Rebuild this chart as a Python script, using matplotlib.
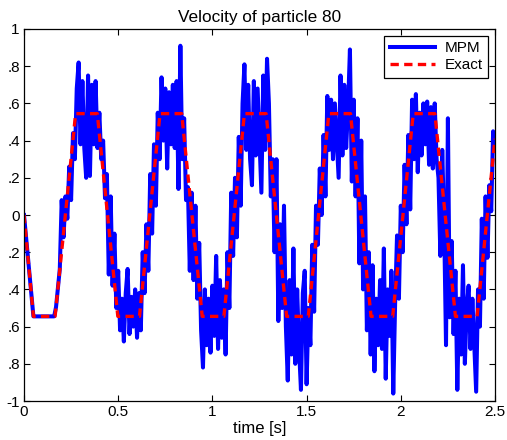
import numpy as np
import matplotlib
matplotlib.use("Agg")
import matplotlib.pyplot as plt

plt.rcParams['font.family'] = ['Liberation Sans', 'DejaVu Sans']

# exact solution: breakpoints of the piecewise linear velocity
exact_t = [0.0, 0.05, 0.165, 0.274, 0.389, 0.498, 0.613, 0.722, 0.837, 0.946,
           1.061, 1.170, 1.285, 1.394, 1.509, 1.618, 1.733, 1.842, 1.957,
           2.066, 2.181, 2.290, 2.405, 2.5]
exact_v = [0.0, -0.545, -0.545, 0.545, 0.545, -0.545, -0.545, 0.545, 0.545, -0.545,
           -0.545, 0.545, 0.545, -0.545, -0.545, 0.545, 0.545, -0.545, -0.545,
           0.545, 0.545, -0.545, -0.545, 0.41]

dt = 0.01
mpm_v = [
    0.0, -0.11, -0.22, -0.33, -0.44, -0.545, -0.545, -0.545, -0.545, -0.545,
    -0.545, -0.545, -0.545, -0.545, -0.545, -0.545, -0.545, -0.495, -0.395, -0.29,
    0.08, -0.12, 0.10, -0.02, 0.26, 0.08, 0.44, 0.30, 0.68, 0.82,
    0.38, 0.72, 0.36, 0.20, 0.75, 0.21, 0.70, 0.38, 0.72, 0.36,
    0.55, 0.30, 0.40, 0.09, 0.22, -0.32, 0.10, -0.38, -0.10, -0.50,
    -0.30, -0.62, -0.45, -0.68, -0.42, -0.29, -0.64, -0.44, -0.60, -0.40,
    -0.66, -0.42, -0.62, -0.20, -0.42, -0.05, -0.30, 0.22, -0.10, 0.38,
    0.05, 0.55, 0.30, 0.74, 0.40, 0.68, 0.25, 0.66, 0.38, 0.70,
    0.36, 0.72, 0.14, 0.91, 0.30, 0.52, 0.08, 0.15, -0.30, 0.12,
    -0.35, 0.05, -0.45, -0.15, -0.62, -0.82, -0.40, -0.70, -0.45, -0.74,
    -0.38, -0.65, -0.22, -0.72, -0.35, -0.66, -0.40, -0.75, -0.20, -0.50,
    0.12, -0.22, 0.20, -0.12, 0.42, 0.05, 0.60, 0.81, 0.35, 0.70,
    0.30, 0.16, 0.72, 0.32, 0.68, 0.40, 0.12, 0.75, 0.35, 0.84,
    0.60, 0.10, 0.30, -0.20, 0.30, -0.57, -0.05, -0.50, 0.05, -0.60,
    -0.89, -0.35, -0.75, -0.18, -0.80, -0.40, -0.72, -0.94, -0.42, -0.30,
    -0.91, -0.50, -0.70, -0.16, -0.52, 0.05, -0.16, 0.25, 0.00, 0.43,
    0.10, 0.64, 0.35, 0.62, 0.30, 0.60, 0.40, 0.20, 0.75, 0.32,
    0.70, 0.36, 0.58, 0.89, 0.18, 0.62, 0.10, 0.52, -0.26, 0.40,
    -0.40, 0.10, -0.62, -0.20, -0.75, -0.27, -0.84, -0.45, -0.70, -0.35,
    -0.72, -0.18, -0.88, -0.40, -0.65, -0.30, -0.96, -0.47, -0.11, -0.45,
    0.05, -0.20, 0.27, -0.05, 0.43, 0.03, 0.62, 0.30, 0.65, 0.23,
    0.55, 0.32, 0.60, 0.38, 0.61, 0.27, 0.58, 0.25, 0.60, 0.30,
    0.20, -0.22, 0.35, -0.05, -0.70, 0.52, -0.55, -0.14, -0.64, -0.30,
    -0.94, -0.45, -0.75, -0.27, -0.80, -0.50, -0.38, -0.72, -0.45, -0.70,
    -0.95, -0.40, -0.60, -0.02, -0.45, 0.10, -0.23, 0.16, 0.02, 0.45, 0.38,
]

x_ticks = [0, 0.5, 1, 1.5, 2, 2.5]
x_labels = ["0", "0.5", "1", "1.5", "2", "2.5"]
y_ticks = [-1, -0.8, -0.6, -0.4, -0.2, 0, 0.2, 0.4, 0.6, 0.8, 1]
# the original dropped the minus sign on the decimal labels
y_labels = ["-1", ".8", ".6", ".4", ".2", "0", ".2", ".4", ".6", ".8", "1"]

mpm_t = np.arange(len(mpm_v)) * dt

fig = plt.figure(figsize=(5.07, 4.40), dpi=100)
ax = fig.add_axes([24 / 507, 39 / 440, 471 / 507, 372 / 440])

ax.plot(mpm_t, mpm_v, color="#0000ff", lw=2.9, label="MPM")
ax.plot(exact_t, exact_v, color="#ff0000", lw=2.4, ls=(0, (2.5, 1.6)), label="Exact")

ax.set_xlim(0, 2.5)
ax.set_ylim(-1, 1)
ax.set_xticks(x_ticks)
ax.set_xticklabels(x_labels)
ax.set_yticks(y_ticks)
ax.set_yticklabels(y_labels)
ax.tick_params(direction="in", length=4, width=0.8, top=True, right=True,
               labelsize=11, pad=3, colors="black")
for s in ax.spines.values():
    s.set_linewidth(0.9)
    s.set_color("black")

ax.set_title("Velocity of particle 80", fontsize=12.4, pad=5)
ax.set_xlabel("time [s]", fontsize=12, labelpad=1)

leg = ax.legend(loc="upper right", fontsize=11, fancybox=False, framealpha=1,
                edgecolor="black", handlelength=3.0, borderaxespad=0.45,
                borderpad=0.35, labelspacing=0.2, handletextpad=0.6)
leg.get_frame().set_linewidth(0.9)

fig.savefig("out.png", dpi=100)
